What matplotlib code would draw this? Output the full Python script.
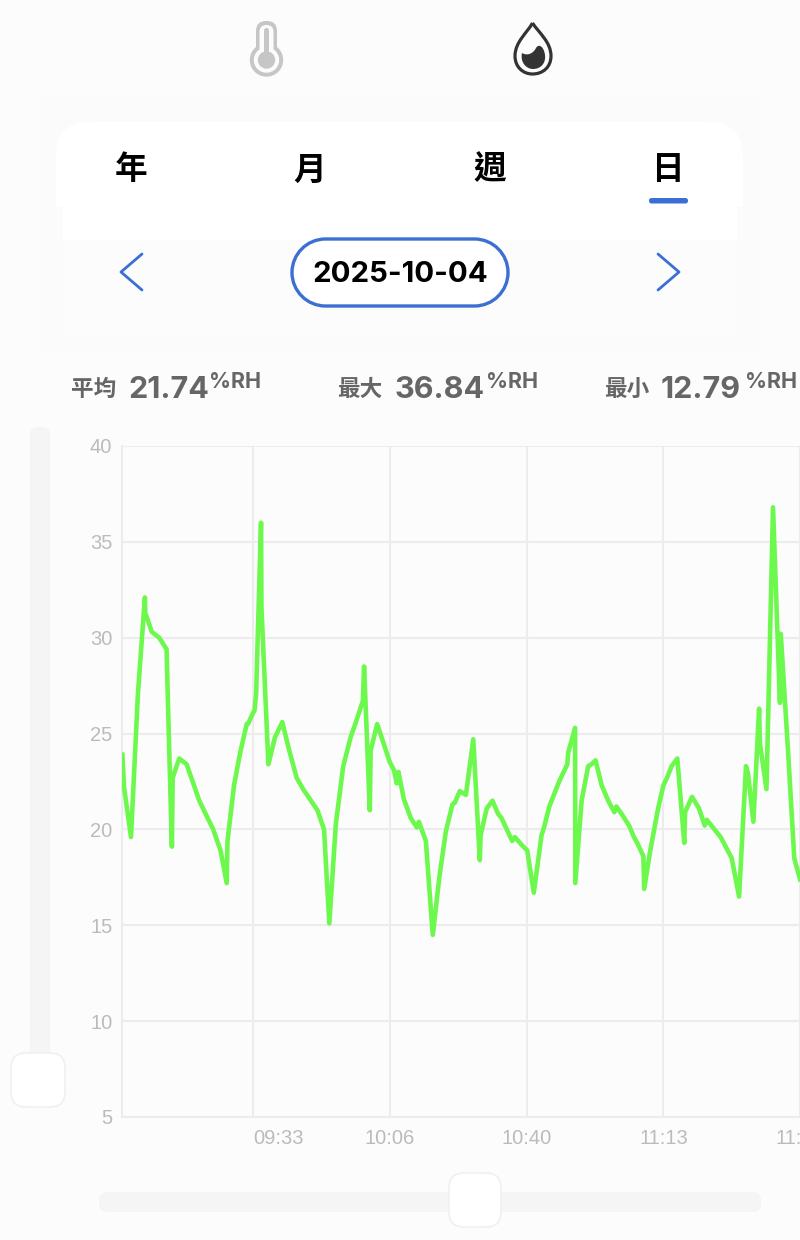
"""Humidity day view: app screenshot rebuilt with matplotlib."""
import matplotlib
matplotlib.use("Agg")
import matplotlib.pyplot as plt
from matplotlib.patches import Circle, FancyBboxPatch, PathPatch, Rectangle
from matplotlib.path import Path

# minutes from the left edge of the plot
minutes = [
    0.1, 0.5, 2.2, 3.9, 5.6, 5.7, 7.3, 9.1, 10.9, 11.3, 12.2, 12.4, 14.0, 15.8, 18.9, 22.3,
    24.1, 25.6, 25.8, 27.4, 28.9, 30.5, 30.8, 32.1, 32.4, 32.8, 34.0, 34.1, 35.8, 37.4, 39.2,
    40.8, 42.7, 44.3, 47.8, 49.4, 50.7, 52.3, 54.1, 55.9, 57.2, 58.9, 59.2, 60.6, 60.8, 62.4,
    65.5, 66.5, 67.2, 67.6, 68.9, 70.6, 72.1, 72.6, 74.3, 76.0, 77.6, 79.2, 80.8, 81.4, 82.6,
    84.1, 85.9, 87.5, 87.7, 89.2, 90.6, 92.0, 92.8, 95.4, 96.1, 97.7, 99.1, 100.7, 102.6,
    103.2, 104.5, 106.9, 108.9, 109.1, 110.8, 110.85, 112.4, 114.0, 114.8, 115.8, 117.3,
    118.9, 120.4, 120.9, 122.2, 124.0, 125.2, 126.0, 127.5, 127.7, 129.1, 131.1, 132.4,
    133.3, 134.4, 135.8, 136.3, 137.5, 137.7, 139.4, 141.1, 142.5, 143.0, 146.4, 149.1,
    150.9, 152.6, 153.1, 154.4, 155.8, 156.0, 157.6, 159.2, 160.9, 161.1, 162.9, 164.4, 165.8,
]
humidity = [
    23.9, 22.2, 19.6, 27.1, 32.1, 31.3, 30.3, 30.0, 29.4, 26.1, 19.1, 22.7, 23.7, 23.4, 21.5, 20.0,
    18.9, 17.2, 19.4, 22.3, 24.0, 25.5, 25.5, 26.1, 26.2, 27.1, 36.0, 31.6, 23.4, 24.8, 25.6,
    24.2, 22.7, 22.1, 21.0, 20.0, 15.1, 20.3, 23.3, 24.8, 25.6, 26.7, 28.5, 21.0, 24.1, 25.5,
    23.5, 23.1, 22.4, 23.0, 21.6, 20.6, 20.1, 20.4, 19.4, 14.5, 17.5, 19.9, 21.3, 21.4, 22.0,
    21.8, 24.7, 18.4, 19.7, 21.1, 21.5, 20.8, 20.6, 19.4, 19.6, 19.2, 18.9, 16.7, 19.7,
    20.1, 21.2, 22.5, 23.4, 24.0, 25.3, 17.2, 21.5, 23.3, 23.4, 23.6, 22.3,
    21.5, 20.9, 21.2, 20.8, 20.2, 19.6, 19.3, 18.6, 16.9, 18.8, 21.1, 22.3,
    22.7, 23.3, 23.7, 22.4, 19.3, 20.9, 21.7, 21.1, 20.2, 20.5, 19.6, 18.5,
    16.5, 23.3, 22.9, 20.4, 26.3, 24.5, 22.1, 36.8, 26.6, 30.2, 24.0, 18.5, 17.4,
]
time_ticks = [32.0, 65.5, 99.0, 132.4, 165.8]
time_labels = ["09:33", "10:06", "10:40", "11:13", "11:46"]
y_ticks = [5, 10, 15, 20, 25, 30, 35, 40]

tabs = ["年", "月", "週", "日"]
date_label = "2025-10-04"
stat_names = ["平均", "最大", "最小"]
stat_values = ["21.74", "36.84", "12.79"]
stat_unit = "%RH"

BLUE = "#3b6fd3"
GREEN = "#6df84e"
GRID = "#ececec"
ICON_GREY = "#c6c6c6"
PAGE = "#fcfcfc"
CJK = ["Noto Sans CJK TC", "DejaVu Sans"]

W, H = 800, 1240
fig = plt.figure(figsize=(W / 100, H / 100), dpi=100, facecolor=PAGE)

# whole-figure axes in pixels for the app chrome
ui = fig.add_axes([0, 0, 1, 1])
ui.set_xlim(0, W)
ui.set_ylim(H, 0)
ui.axis("off")


def rounded(x0, y0, x1, y1, r, face, edge="none", lw=0, z=1):
    patch = FancyBboxPatch((x0 + r, y0 + r), x1 - x0 - 2 * r, y1 - y0 - 2 * r,
                           boxstyle=f"round,pad={r},rounding_size={r}",
                           facecolor=face, edgecolor=edge, linewidth=lw, zorder=z)
    ui.add_patch(patch)


def block(x0, y0, x1, y1, face, z=1):
    ui.add_patch(Rectangle((x0, y0), x1 - x0, y1 - y0, facecolor=face, edgecolor="none", zorder=z))


def stadium(x0, y0, x1, y1, face, edge, lw, z):
    # real half-circle ends, FancyBboxPatch corners come out too square
    r = (y1 - y0) / 2
    k = 0.5523 * r
    verts = [
        (x0 + r, y0), (x1 - r, y0),
        (x1 - r + k, y0), (x1, y0 + r - k), (x1, y0 + r),
        (x1, y0 + r + k), (x1 - r + k, y1), (x1 - r, y1),
        (x0 + r, y1),
        (x0 + r - k, y1), (x0, y0 + r + k), (x0, y0 + r),
        (x0, y0 + r - k), (x0 + r - k, y0), (x0 + r, y0),
        (x0 + r, y0),
    ]
    codes = [Path.MOVETO, Path.LINETO] + [Path.CURVE4] * 6 + [Path.LINETO] + [Path.CURVE4] * 6 + [Path.CLOSEPOLY]
    ui.add_patch(PathPatch(Path(verts, codes), facecolor=face, edgecolor=edge, linewidth=lw, zorder=z))


# panel behind the tabs
block(40, 96, 760, 352, "#fbfbfb", z=1)
rounded(56, 122, 743, 260, 34, "#ffffff", z=2)
block(50, 207, 750, 352, "#fbfbfb", z=3)
block(63, 207, 737, 240, "#ffffff", z=4)
block(63, 240, 737, 336, "#fcfcfc", z=4)

# thermometer icon
rounded(256, 21, 277, 62, 10, ICON_GREY, z=5)
ui.add_patch(Circle((266.5, 60), 16, color=ICON_GREY, zorder=5))
rounded(259.5, 25, 273.5, 62, 7, PAGE, z=6)
ui.add_patch(Circle((266.5, 60), 12, color=PAGE, zorder=6))
rounded(264, 28, 269, 60, 2.4, ICON_GREY, z=7)
ui.add_patch(Circle((266.5, 60), 8, color=ICON_GREY, zorder=7))

# droplet icon
drop = Path(
    [(532.5, 23), (527, 33), (515, 42), (515, 56), (515, 67), (523, 74), (532.5, 74),
     (543, 74), (551, 67), (551, 56), (551, 42), (539, 33), (532.5, 23)],
    [Path.MOVETO] + [Path.CURVE4] * 12,
)
ui.add_patch(PathPatch(drop, facecolor="none", edgecolor="#333333", lw=2.3, zorder=5))
water = Path(
    [(522, 53), (527, 56), (533, 54), (536, 48), (539, 43), (544, 47), (545, 55),
     (546, 63), (541, 69), (533, 69), (526, 69), (520, 62), (522, 53), (522, 53)],
    [Path.MOVETO] + [Path.CURVE4] * 12 + [Path.CLOSEPOLY],
)
ui.add_patch(PathPatch(water, facecolor="#333333", edgecolor="none", zorder=5))

# tabs
for label, x in zip(tabs, [131, 310, 490, 668]):
    ui.text(x, 170, label, family=CJK, fontsize=23.5, fontweight="bold", color="black",
            ha="center", va="center", zorder=6)
rounded(649, 198, 688, 203.5, 2.5, BLUE, z=6)

# date row
stadium(292, 239, 508, 306, "#ffffff", BLUE, 2.4, z=5)
ui.text(400, 274, date_label, family="Inter", fontsize=21.2, fontweight="bold", color="black",
        ha="center", va="center", zorder=6)
ui.plot([142, 121, 142], [254, 272, 290], color=BLUE, lw=2, solid_capstyle="round", zorder=6)
ui.plot([658, 679, 658], [254, 272, 290], color=BLUE, lw=2, solid_capstyle="round", zorder=6)

# stats row
for name, value, x_name, x_value, x_unit in zip(stat_names, stat_values,
                                                [71, 337, 604], [128, 395, 661], [209, 486, 745]):
    ui.text(x_name, 389, name, family=CJK, fontsize=16.3, fontweight="bold", color="#666666",
            ha="left", va="center", zorder=6)
    ui.text(x_value, 398, value, family="Inter", fontsize=22, fontweight="bold", color="#666666",
            ha="left", va="baseline", zorder=6)
    ui.text(x_unit, 388, stat_unit, family="Inter", fontsize=15.5, fontweight="bold", color="#666666",
            ha="left", va="baseline", zorder=6)

# sliders
rounded(30, 427, 50, 1070, 8, "#f5f5f5")
rounded(11, 1053, 65, 1107, 15, "#ffffff", "#f0f0f0", 1.2, z=3)
rounded(99, 1192, 761, 1212, 8, "#f5f5f5")
rounded(449, 1173, 501, 1227, 15, "#ffffff", "#f0f0f0", 1.2, z=3)

# chart
ax = fig.add_axes([122 / W, 1 - 1117 / H, (W - 122) / W, (1117 - 446) / H])
ax.patch.set_alpha(0)
ax.plot(minutes, humidity, color=GREEN, lw=3.3, solid_joinstyle="round", zorder=3)
ax.set_xlim(0, 165.8)
ax.set_ylim(5, 40)
ax.set_yticks(y_ticks)
ax.set_xticks(time_ticks)
ax.set_xticklabels(time_labels)
ax.grid(True, color=GRID, lw=1.5)
ax.set_axisbelow(True)
ax.tick_params(length=0, labelsize=14.5, labelcolor="#bbbbbb", pad=9)
ax.tick_params(axis="y", pad=7)
for tick in ax.get_xticklabels() + ax.get_yticklabels():
    tick.set_fontfamily("Liberation Sans")
ax.get_xticklabels()[0].set_ha("left")
for side in ["top", "right"]:
    ax.spines[side].set_visible(False)
for side in ["left", "bottom"]:
    ax.spines[side].set_color(GRID)
    ax.spines[side].set_linewidth(1.5)

fig.savefig("out.png", dpi=100, facecolor=fig.get_facecolor())
